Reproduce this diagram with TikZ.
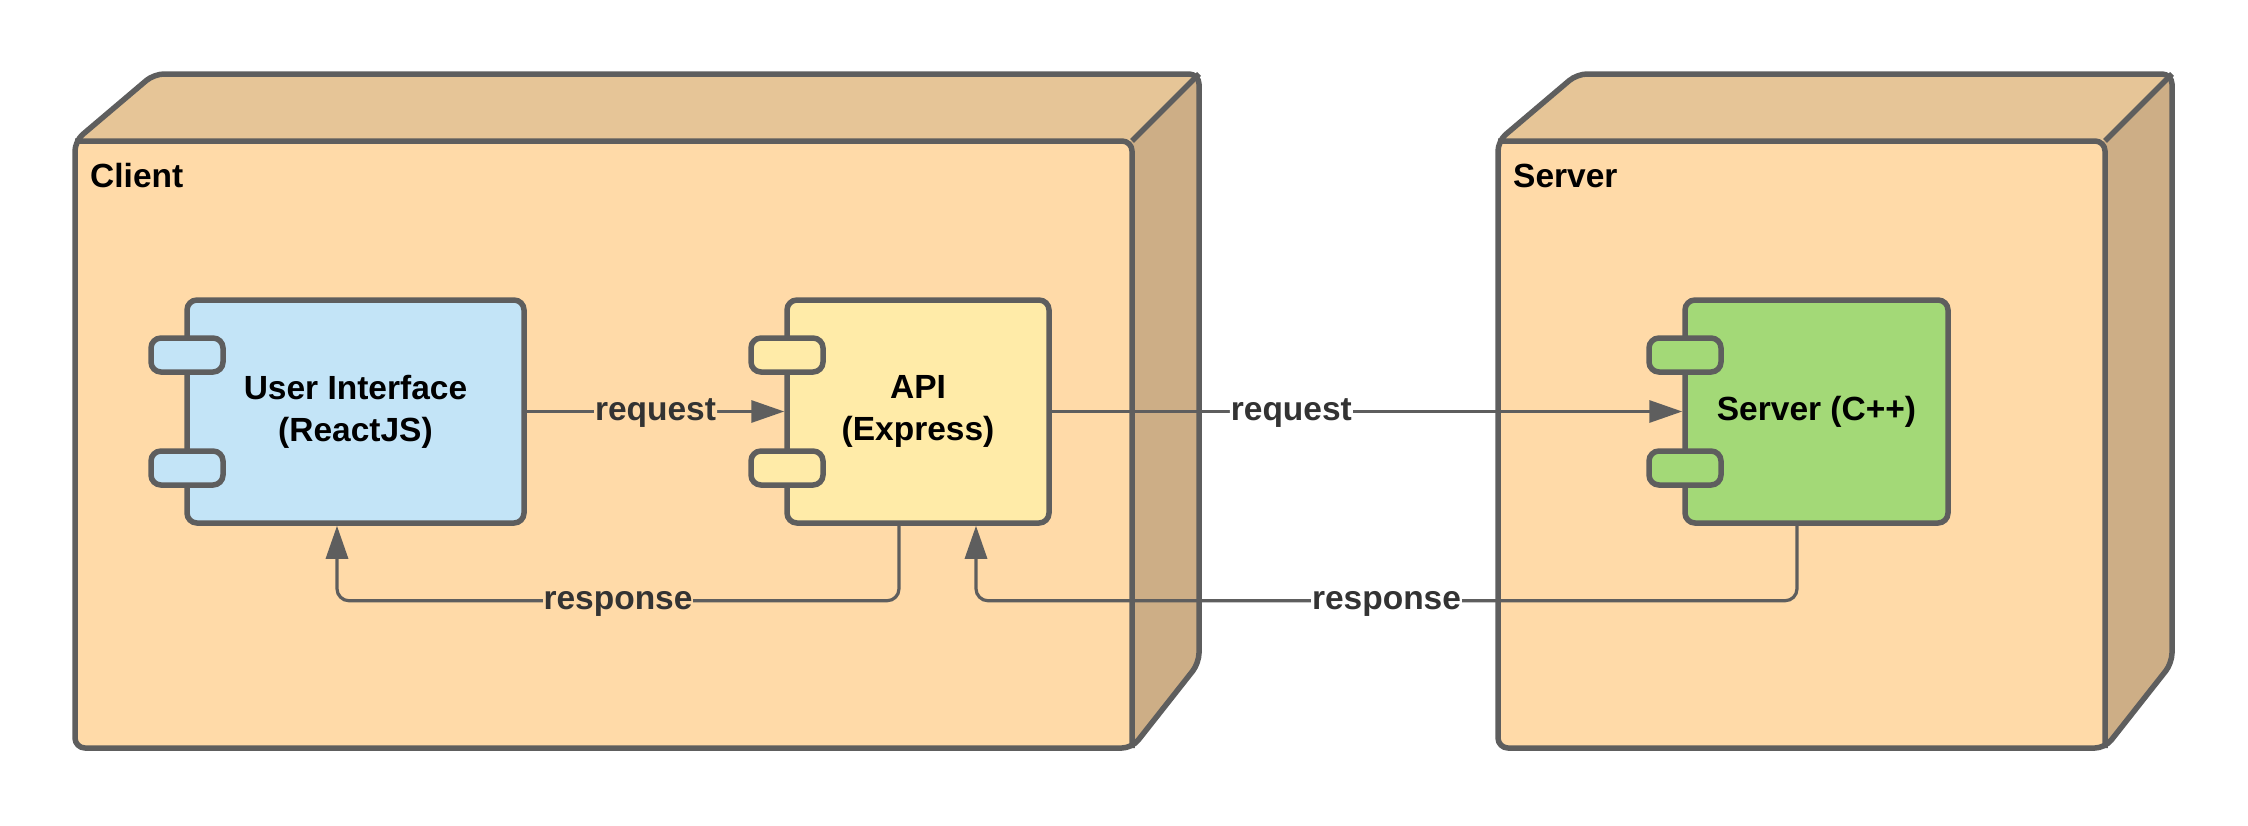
\documentclass[tikz,border=0pt]{standalone}
\usepackage{fontspec}
\setmainfont{Liberation Sans}
\usetikzlibrary{arrows.meta,calc}
\definecolor{frontc}{HTML}{FFDAA8}
\definecolor{topc}{HTML}{E6C597}
\definecolor{sidec}{HTML}{CDAE86}
\definecolor{edgec}{HTML}{5E5E5E}
\definecolor{uic}{HTML}{C3E4F7}
\definecolor{apic}{HTML}{FFEBA8}
\definecolor{srvc}{HTML}{A3D977}
\definecolor{lblc}{HTML}{333333}
\newcommand\depnode[4]{%
  \begin{scope}
    \clip[rounded corners=10pt] (#1,#2) -- ({#1+79},{#2-67}) -- ({#3+67},{#2-67}) -- ({#3+67},{#4-85}) -- (#3,#4) -- (#1,#4) -- cycle;
    \fill[sidec] ({#1-10},{#2-80}) rectangle ({#3+80},{#4+10});
    \fill[topc] ({#1-10},#2) -- ({#1+79},{#2-80}) -- ({#3+80},{#2-80}) -- (#3,#2) -- cycle;
    \fill[frontc,rounded corners=10pt] ({#1-10},#2) rectangle (#3,{#4+10});
  \end{scope}
  \draw[edge,rounded corners=10pt] (#1,#2) -- ({#1+79},{#2-67}) -- ({#3+67},{#2-67}) -- ({#3+67},{#4-85}) -- (#3,#4) -- (#1,#4) -- cycle;
  \draw[edge,rounded corners=10pt] (#1,#2) -- (#3,#2) -- (#3,#4);
  \draw[edge] (#3,#2) -- ({#3+67},{#2-67});
}
\begin{document}
\begin{tikzpicture}[x=1pt,y=-1pt,
  edge/.style={draw=edgec,line width=5.5pt,line join=round},
  bigfont/.style={font=\bfseries\fontsize{33.5}{42}\selectfont},
  comp/.style={draw=edgec,line width=5.5pt,rounded corners=10pt,bigfont,align=center,inner sep=0pt,minimum height=223pt},
  port/.style={draw=edgec,line width=5.5pt,rounded corners=10pt,minimum width=72pt,minimum height=34pt,inner sep=0pt},
  conn/.style={draw=edgec,line width=3.2pt,rounded corners=12pt},
  tip/.style={-{Triangle[length=33pt,width=22pt]}},
  lbl/.style={bigfont,text=lblc,inner sep=1pt,anchor=base,yshift=-8.6pt},
  ttl/.style={bigfont,text=black,inner sep=0pt,anchor=base west}]
\useasboundingbox (0,0) rectangle (2248,825);
\fill[white] (0,0) rectangle (2248,825);

\depnode{75}{141}{1132}{748}
\depnode{1498}{141}{2105}{748}
\node[ttl] (clientT) at (90,187) {Client};
\node[ttl] (serverT) at (1513,187) {Server};

\node[comp,fill=uic,minimum width=337pt] (ui) at (355.5,411.5) {User Interface\\(ReactJS)};
\node[comp,fill=apic,minimum width=262pt] (api) at (918,411.5) {API\\(Express)};
\node[comp,fill=srvc,minimum width=263pt] (srv) at (1816.5,411.5) {Server (C++)};

\node[port,fill=uic] (uip1) at ($(ui.west)+(2.75,-56.5)$) {};
\node[port,fill=uic] (uip2) at ($(ui.west)+(2.75,56.5)$) {};
\node[port,fill=apic] (apip1) at ($(api.west)+(2.75,-56.5)$) {};
\node[port,fill=apic] (apip2) at ($(api.west)+(2.75,56.5)$) {};
\node[port,fill=srvc] (srvp1) at ($(srv.west)+(2.75,-56.5)$) {};
\node[port,fill=srvc] (srvp2) at ($(srv.west)+(2.75,56.5)$) {};

\draw[conn,tip] (ui.east) -- node[lbl,fill=frontc]{request} (api.west);
\draw[conn,tip] (api.east) -- node[lbl,fill=white,pos=0.38]{request} (srv.west);

\coordinate (r1s) at ($(api.south)+(-19,0)$);
\coordinate (r1e) at ($(ui.south)+(-18.5,0)$);
\draw[conn,tip] (r1s) -- ++(0,75) coordinate (r1m) -| (r1e);
\path (r1m) -- (r1m -| r1e) node[midway,lbl,fill=frontc]{response};

\coordinate (r2s) at ($(srv.south)+(-19.5,0)$);
\coordinate (r2e) at ($(api.south)+(58,0)$);
\draw[conn,tip] (r2s) -- ++(0,75) coordinate (r2m) -| (r2e);
\path (r2m) -- (r2m -| r2e) node[midway,lbl,fill=white]{response};
\end{tikzpicture}
\end{document}
